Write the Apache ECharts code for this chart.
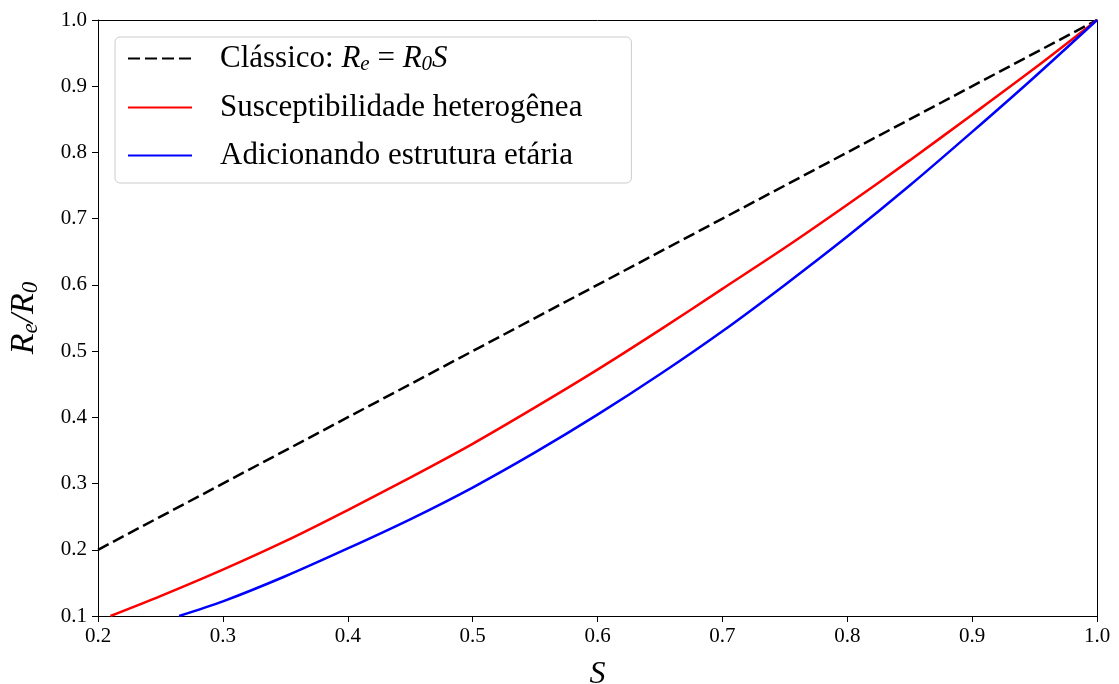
<!DOCTYPE html>
<html>
<head>
<meta charset="utf-8">
<script src="https://cdn.jsdelivr.net/npm/echarts@6/dist/echarts.min.js"></script>
<style>
  html, body { margin: 0; padding: 0; background: #fff; }
  #chart { width: 1119px; height: 684px; }
</style>
</head>
<body>
<div id="chart"></div>
<script>
// S values and Re/R0
var classicS = [0.2, 1.0];
var classicRe = [0.2, 1.0];

var heteroS = [0.21, 0.25, 0.3, 0.35, 0.4, 0.45, 0.5, 0.55, 0.6, 0.65, 0.7, 0.75, 0.8, 0.85, 0.9, 0.95, 1.0];
var heteroRe = [0.100, 0.130, 0.170, 0.213, 0.260, 0.309, 0.360, 0.415, 0.472, 0.532, 0.594, 0.656, 0.721, 0.788, 0.857, 0.927, 1.0];

var ageS = [0.265, 0.3, 0.35, 0.4, 0.45, 0.5, 0.55, 0.6, 0.65, 0.7, 0.75, 0.8, 0.85, 0.9, 0.95, 1.0];
var ageRe = [0.100, 0.122, 0.160, 0.202, 0.246, 0.294, 0.347, 0.404, 0.465, 0.530, 0.600, 0.673, 0.750, 0.831, 0.914, 1.0];

var xTicks = [0.2, 0.3, 0.4, 0.5, 0.6, 0.7, 0.8, 0.9, 1.0];
var yTicks = [0.1, 0.2, 0.3, 0.4, 0.5, 0.6, 0.7, 0.8, 0.9, 1.0];

var names = ["Clássico", "Susceptibilidade heterogênea", "Adicionando estrutura etária"];

function pairs(xs, ys) {
  return xs.map(function (x, i) { return [x, ys[i]]; });
}
function tickText(v) { return v.toFixed(1); }

var font = "Liberation Serif";
var chart = echarts.init(document.getElementById("chart"));

// plain axis used for the top / right frame of the plot box
function frame(pos, min, max) {
  return {
    type: "value",
    position: pos,
    min: min,
    max: max,
    axisLine: { show: true, onZero: false, lineStyle: { color: "#000", width: 1 } },
    axisTick: { show: false },
    axisLabel: { show: false },
    splitLine: { show: false }
  };
}

chart.setOption({
  animation: false,
  grid: { left: 98, right: 22, top: 20, bottom: 68, outerBoundsMode: "none" },
  legend: {
    orient: "vertical",
    left: 115,
    top: 37,
    padding: [6, 49, 12, 12],
    itemWidth: 64,
    itemHeight: 28,
    itemGap: 17,
    itemStyle: { opacity: 0 },
    backgroundColor: "rgba(255,255,255,0.8)",
    borderColor: "#cccccc",
    borderWidth: 1,
    borderRadius: 5,
    data: names,
    formatter: function (name) {
      if (name === names[0]) {
        return "{t|Clássico: }{i|R}{sub|e}{t| = }{i|R}{sub|0}{i|S}";
      }
      return "{t|" + name + "}";
    },
    textStyle: {
      padding: [0, 0, 0, 23],
      rich: {
        t: { fontFamily: font, fontSize: 31, color: "#000" },
        i: { fontFamily: font, fontStyle: "italic", fontSize: 31, color: "#000" },
        sub: { fontFamily: font, fontStyle: "italic", fontSize: 21, color: "#000", padding: [12, 0, 0, 0] }
      }
    }
  },
  xAxis: [
    {
      type: "value",
      min: xTicks[0],
      max: xTicks[xTicks.length - 1],
      interval: 0.1,
      name: "S",
      nameLocation: "middle",
      nameGap: 43,
      nameTextStyle: { fontFamily: font, fontStyle: "italic", fontSize: 32, color: "#000" },
      axisLine: { show: true, onZero: false, lineStyle: { color: "#000", width: 1 } },
      axisTick: { show: true, length: 6, lineStyle: { color: "#000", width: 1 } },
      axisLabel: { margin: 10, fontFamily: font, fontSize: 21, color: "#000", formatter: tickText },
      splitLine: { show: false }
    },
    frame("top", xTicks[0], xTicks[xTicks.length - 1])
  ],
  yAxis: [
    {
      type: "value",
      min: yTicks[0],
      max: yTicks[yTicks.length - 1],
      interval: 0.1,
      name: "{i|R}{sub|e}{i|/R}{sub|0}",
      nameLocation: "middle",
      nameGap: 56,
      nameTextStyle: {
        rich: {
          i: { fontFamily: font, fontStyle: "italic", fontSize: 34, color: "#000" },
          sub: { fontFamily: font, fontStyle: "italic", fontSize: 23, color: "#000", padding: [13, 0, 0, 0] }
        }
      },
      axisLine: { show: true, onZero: false, lineStyle: { color: "#000", width: 1 } },
      axisTick: { show: true, length: 6, lineStyle: { color: "#000", width: 1 } },
      axisLabel: { margin: 11, fontFamily: font, fontSize: 21, color: "#000", formatter: tickText },
      splitLine: { show: false }
    },
    frame("right", yTicks[0], yTicks[yTicks.length - 1])
  ],
  series: [
    {
      name: names[0],
      type: "line",
      data: pairs(classicS, classicRe),
      symbol: "none",
      lineStyle: { color: "#000", width: 2.5, type: [12, 5] },
      itemStyle: { color: "#000" },
      z: 3
    },
    {
      name: names[1],
      type: "line",
      data: pairs(heteroS, heteroRe),
      symbol: "none",
      smooth: 0.3,
      lineStyle: { color: "#ff0000", width: 2.5 },
      itemStyle: { color: "#ff0000" },
      z: 4
    },
    {
      name: names[2],
      type: "line",
      data: pairs(ageS, ageRe),
      symbol: "none",
      smooth: 0.3,
      lineStyle: { color: "#0000ff", width: 2.5 },
      itemStyle: { color: "#0000ff" },
      z: 5
    }
  ]
});
</script>
</body>
</html>
